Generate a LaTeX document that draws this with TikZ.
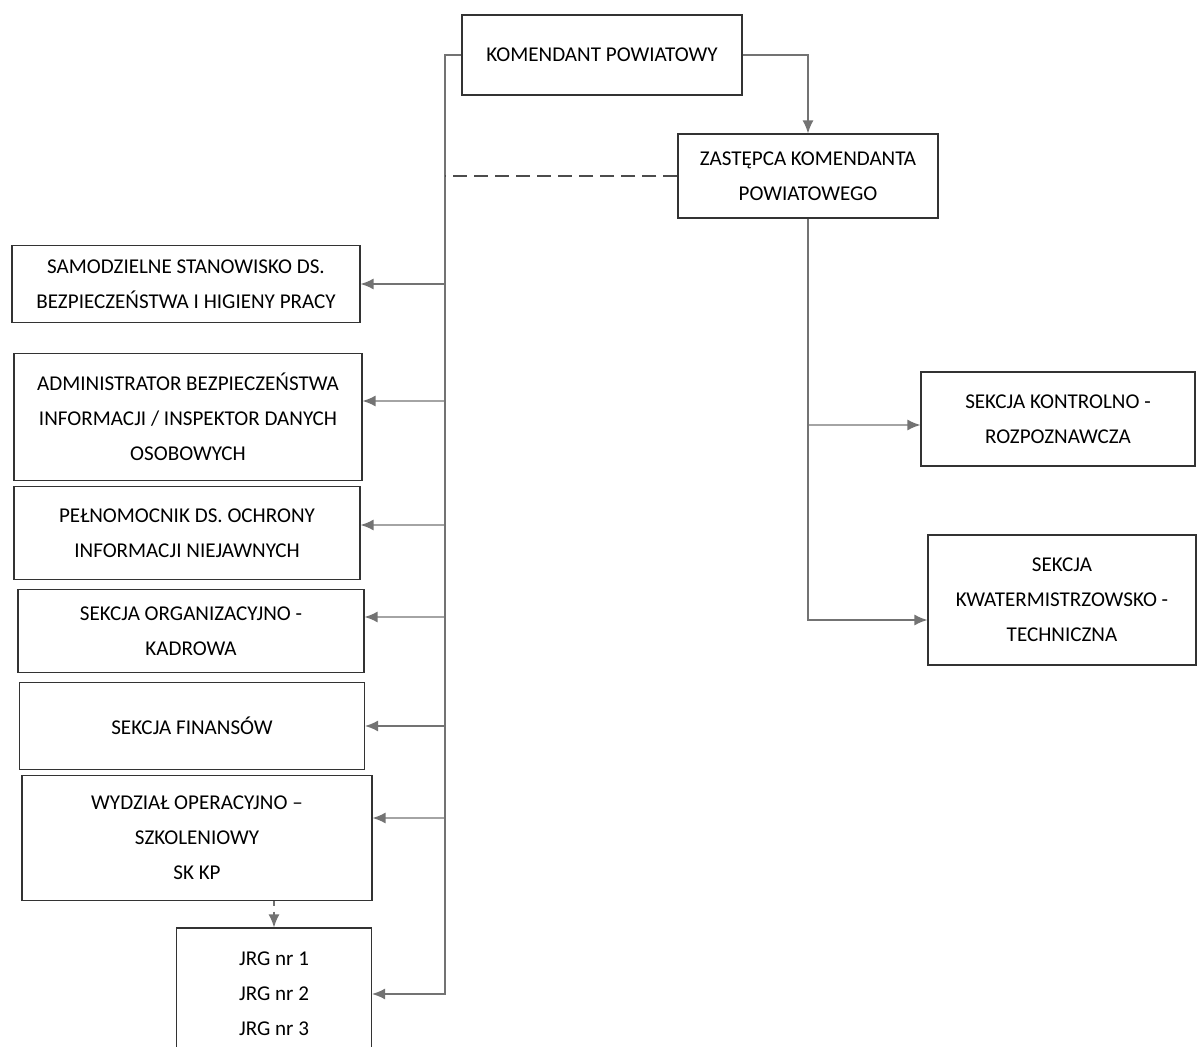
\documentclass[tikz,border=0pt]{standalone}
\usepackage{fontspec}
\setmainfont{Carlito}
\usetikzlibrary{arrows.meta}

\begin{document}
\begin{tikzpicture}[x=0.02cm, y=-0.02cm,
  box/.style={draw=black!80, line width=0.7pt, align=center, inner sep=2pt,
    font=\fontsize{12}{20}\selectfont},
  conn/.style={draw=black!55, line width=0.8pt, -{Latex[length=2.6mm,width=2.2mm]}},
  link/.style={draw=black!70, line width=0.8pt}]
% Page size
\useasboundingbox (0,0) rectangle (1198,1047);

% Top of the chart
\node[box, minimum width=5.6cm, minimum height=1.6cm] (kp) at (602,55) {KOMENDANT POWIATOWY};
\node[box, minimum width=5.2cm, minimum height=1.68cm] (zp) at (808,176) {ZASTĘPCA KOMENDANTA\\POWIATOWEGO};

% Left column
\node[box, minimum width=6.96cm, minimum height=1.54cm] (bhp) at (186,284) {SAMODZIELNE STANOWISKO DS.\\BEZPIECZEŃSTWA I HIGIENY PRACY};
\node[box, minimum width=6.96cm, minimum height=2.54cm] (abi) at (188,417) {ADMINISTRATOR BEZPIECZEŃSTWA\\INFORMACJI / INSPEKTOR DANYCH\\OSOBOWYCH};
\node[box, minimum width=6.92cm, minimum height=1.86cm] (pel) at (187,533) {PEŁNOMOCNIK DS. OCHRONY\\INFORMACJI NIEJAWNYCH};
\node[box, minimum width=6.92cm, minimum height=1.66cm] (org) at (191,631) {SEKCJA ORGANIZACYJNO -\\KADROWA};
\node[box, minimum width=6.9cm, minimum height=1.74cm] (fin) at (192,726) {SEKCJA FINANSÓW};
\node[box, minimum width=7.0cm, minimum height=2.5cm] (wos) at (197,838) {WYDZIAŁ OPERACYJNO –\\SZKOLENIOWY\\SK KP};
\node[box, minimum width=3.9cm, minimum height=2.64cm] (jrg) at (274,994) {JRG nr 1\\JRG nr 2\\JRG nr 3};

% Right column
\node[box, minimum width=5.48cm, minimum height=1.88cm] (skr) at (1058,419) {SEKCJA KONTROLNO -\\ROZPOZNAWCZA};
\node[box, minimum width=5.36cm, minimum height=2.6cm] (skt) at (1062,600) {SEKCJA\\KWATERMISTRZOWSKO -\\TECHNICZNA};

% Main line on the left
\coordinate (trunk) at (445,55);
\draw[conn] (kp.west) -| (trunk |- jrg.east) -- (jrg.east);
\draw[conn] (trunk |- bhp.east) -- (bhp.east);
\draw[conn] (trunk |- abi.east) ++(0,-16) -- ([yshift=0.32cm]abi.east);
\draw[conn] (trunk |- pel.east) ++(0,-8) -- ([yshift=0.16cm]pel.east);
\draw[conn] (trunk |- org.east) ++(0,-14) -- ([yshift=0.28cm]org.east);
\draw[conn] (trunk |- fin.east) -- (fin.east);
\draw[conn] (trunk |- wos.east) ++(0,-20) -- ([yshift=0.4cm]wos.east);
\draw[link, dash pattern=on 8pt off 4pt] (zp.west) -- (trunk |- zp.west);
\draw[conn, dashed] (wos.south -| jrg.north) -- (jrg.north);

% Deputy and his sections
\draw[conn] (kp.east) -| (zp.north);
\draw[conn] (zp.south) |- ([yshift=-0.4cm]skt.west);
\draw[conn] (zp.south |- skr.west) ++(0,6) -- ([yshift=-0.12cm]skr.west);
\end{tikzpicture}
\end{document}
